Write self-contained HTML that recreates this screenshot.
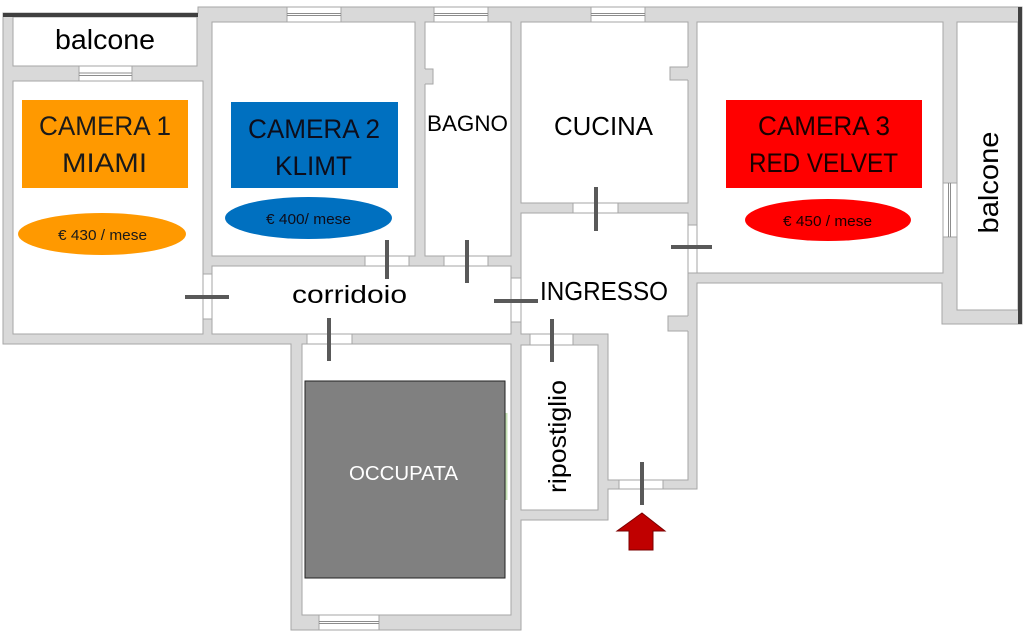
<!DOCTYPE html>
<html>
<head>
<meta charset="utf-8">
<style>
html,body{margin:0;padding:0;background:#fff;}
svg{display:block;}
text{font-family:"Liberation Sans",sans-serif;}
</style>
</head>
<body>
<svg width="1024" height="632" viewBox="0 0 1024 632" xmlns="http://www.w3.org/2000/svg">
<rect x="0" y="0" width="1024" height="632" fill="#fff"/>
<!-- footprint walls -->
<polygon points="3,13 198,13 198,7 1022,7 1022,324 942,324 942,283 697,283 697,489 608,489 608,520 521,520 521,630 291,630 291,344 3,344" fill="#d9d9d9" stroke="#a6a6a6" stroke-width="1"/>
<!-- rooms -->
<g fill="#fff" stroke="#a6a6a6" stroke-width="1">
<rect x="13" y="17" width="184" height="49"/>
<rect x="13" y="81" width="190" height="253"/>
<rect x="212" y="22" width="203" height="234"/>
<rect x="425" y="22" width="86" height="234"/>
<rect x="521" y="22" width="167" height="181"/>
<rect x="697" y="22" width="246" height="251"/>
<rect x="957" y="22" width="61" height="288"/>
<rect x="212" y="266" width="299" height="68"/>
<polygon points="521,213 688,213 688,480 608,480 608,334 521,334"/>
<rect x="521" y="345" width="77" height="165"/>
<rect x="302" y="344" width="209" height="271"/>
</g>
<!-- protrusions -->
<rect x="424" y="69" width="9" height="15" fill="#d9d9d9"/>
<path d="M425,69 H433 V84 H425" fill="none" stroke="#a6a6a6"/>
<rect x="670" y="67" width="19" height="13" fill="#d9d9d9"/>
<path d="M688,67 H670 V80 H688" fill="none" stroke="#a6a6a6"/>
<rect x="668" y="316" width="21" height="15" fill="#d9d9d9"/>
<path d="M688,316 H668 V331 H688" fill="none" stroke="#a6a6a6"/>
<!-- windows -->
<g fill="#fff" stroke="#a6a6a6" stroke-width="1">
<rect x="79" y="66" width="53" height="15"/>
<rect x="287" y="7" width="54" height="15"/>
<rect x="434" y="7" width="54" height="15"/>
<rect x="591" y="7" width="54" height="15"/>
<rect x="943" y="183" width="14" height="54"/>
<rect x="319" y="615" width="60" height="15"/>
</g>
<g stroke="#8c8c8c" stroke-width="1">
<line x1="79" y1="73" x2="132" y2="73"/><line x1="79" y1="75.5" x2="132" y2="75.5"/>
<line x1="287" y1="13.5" x2="341" y2="13.5"/><line x1="287" y1="15.5" x2="341" y2="15.5"/>
<line x1="434" y1="13.5" x2="488" y2="13.5"/><line x1="434" y1="15.5" x2="488" y2="15.5"/>
<line x1="591" y1="13.5" x2="645" y2="13.5"/><line x1="591" y1="15.5" x2="645" y2="15.5"/>
<line x1="948.5" y1="183" x2="948.5" y2="237"/><line x1="950.5" y1="183" x2="950.5" y2="237"/>
<line x1="319" y1="621.5" x2="379" y2="621.5"/><line x1="319" y1="623.5" x2="379" y2="623.5"/>
</g>
<!-- door openings -->
<g fill="#fff" stroke="#a6a6a6" stroke-width="1">
<rect x="203" y="274" width="9" height="45"/>
<rect x="365" y="256" width="44" height="10"/>
<rect x="444" y="256" width="44" height="10"/>
<rect x="511" y="278" width="10" height="44"/>
<rect x="307" y="334" width="45" height="10"/>
<rect x="573" y="203" width="45" height="10"/>
<rect x="688" y="225" width="9" height="48"/>
<rect x="530" y="334" width="43" height="11"/>
<rect x="619" y="480" width="44" height="9"/>
</g>
<!-- door bars -->
<g stroke="#595959" stroke-width="4">
<line x1="185" y1="297" x2="229" y2="297"/>
<line x1="387" y1="240" x2="387" y2="279"/>
<line x1="467" y1="240" x2="467" y2="283"/>
<line x1="494" y1="301" x2="538" y2="301"/>
<line x1="329" y1="318" x2="329" y2="361"/>
<line x1="596" y1="187" x2="596" y2="231"/>
<line x1="671" y1="247" x2="712" y2="247"/>
<line x1="552" y1="319" x2="552" y2="362"/>
<line x1="642" y1="462" x2="642" y2="505"/>
</g>
<!-- balcony dark edges -->
<line x1="3" y1="15" x2="198" y2="15" stroke="#404040" stroke-width="4"/>
<line x1="1020" y1="7" x2="1020" y2="324" stroke="#404040" stroke-width="4"/>
<!-- colored boxes -->
<rect x="22" y="100" width="166" height="88" fill="#ff9900"/>
<rect x="231" y="102" width="167" height="86" fill="#0070c0"/>
<rect x="726" y="100" width="196" height="88" fill="#ff0000"/>
<ellipse cx="102" cy="234" rx="84" ry="21" fill="#ff9900"/>
<ellipse cx="308.5" cy="218" rx="83.5" ry="21" fill="#0070c0"/>
<ellipse cx="828" cy="220" rx="83" ry="21" fill="#ff0000"/>
<!-- occupata -->
<rect x="305" y="381" width="200" height="197" fill="#808080" stroke="#222" stroke-width="1"/>
<line x1="506.5" y1="413" x2="506.5" y2="500" stroke="#c5e0b4" stroke-width="2"/>
<!-- arrow -->
<polygon points="642,513 665,531 653,531 653,550 629,550 629,531 617,531" fill="#c00000" stroke="#7a0000" stroke-width="1"/>
<!-- labels -->
<g fill="#000" text-anchor="middle">
<text x="105" y="49" font-size="28" textLength="100" lengthAdjust="spacingAndGlyphs">balcone</text>
<text x="105" y="135" font-size="27" textLength="132" lengthAdjust="spacingAndGlyphs" fill="#1a1a1a">CAMERA 1</text>
<text x="104.5" y="172" font-size="27" textLength="85" lengthAdjust="spacingAndGlyphs" fill="#1a1a1a">MIAMI</text>
<text x="314" y="138" font-size="27" textLength="132" lengthAdjust="spacingAndGlyphs" fill="#0d0d1a">CAMERA 2</text>
<text x="313.5" y="175" font-size="27" textLength="77" lengthAdjust="spacingAndGlyphs" fill="#0d0d1a">KLIMT</text>
<text x="824" y="135" font-size="27" textLength="132" lengthAdjust="spacingAndGlyphs" fill="#1a0000">CAMERA 3</text>
<text x="823.5" y="172" font-size="27" textLength="149" lengthAdjust="spacingAndGlyphs" fill="#1a0000">RED VELVET</text>
<text x="102.5" y="240" font-size="15" textLength="89" lengthAdjust="spacingAndGlyphs" fill="#1a1a1a">€ 430 / mese</text>
<text x="308.5" y="224" font-size="15" textLength="85" lengthAdjust="spacingAndGlyphs" fill="#0d0d1a">€ 400/ mese</text>
<text x="827.5" y="226" font-size="15" textLength="89" lengthAdjust="spacingAndGlyphs" fill="#1a0000">€ 450 / mese</text>
<text x="467.5" y="131" font-size="22" textLength="81" lengthAdjust="spacingAndGlyphs">BAGNO</text>
<text x="603.5" y="135" font-size="26" textLength="99" lengthAdjust="spacingAndGlyphs">CUCINA</text>
<text x="604" y="300" font-size="26" textLength="128" lengthAdjust="spacingAndGlyphs">INGRESSO</text>
<text x="349.5" y="303" font-size="25" textLength="115" lengthAdjust="spacingAndGlyphs">corridoio</text>
<text x="403.5" y="480" font-size="20" textLength="109" lengthAdjust="spacingAndGlyphs" fill="#fff">OCCUPATA</text>
<text transform="translate(566,436.5) rotate(-90)" x="0" y="0" font-size="25" textLength="113" lengthAdjust="spacingAndGlyphs">ripostiglio</text>
<text transform="translate(998,182.5) rotate(-90)" x="0" y="0" font-size="28" textLength="102" lengthAdjust="spacingAndGlyphs">balcone</text>
</g>
</svg>
</body>
</html>
